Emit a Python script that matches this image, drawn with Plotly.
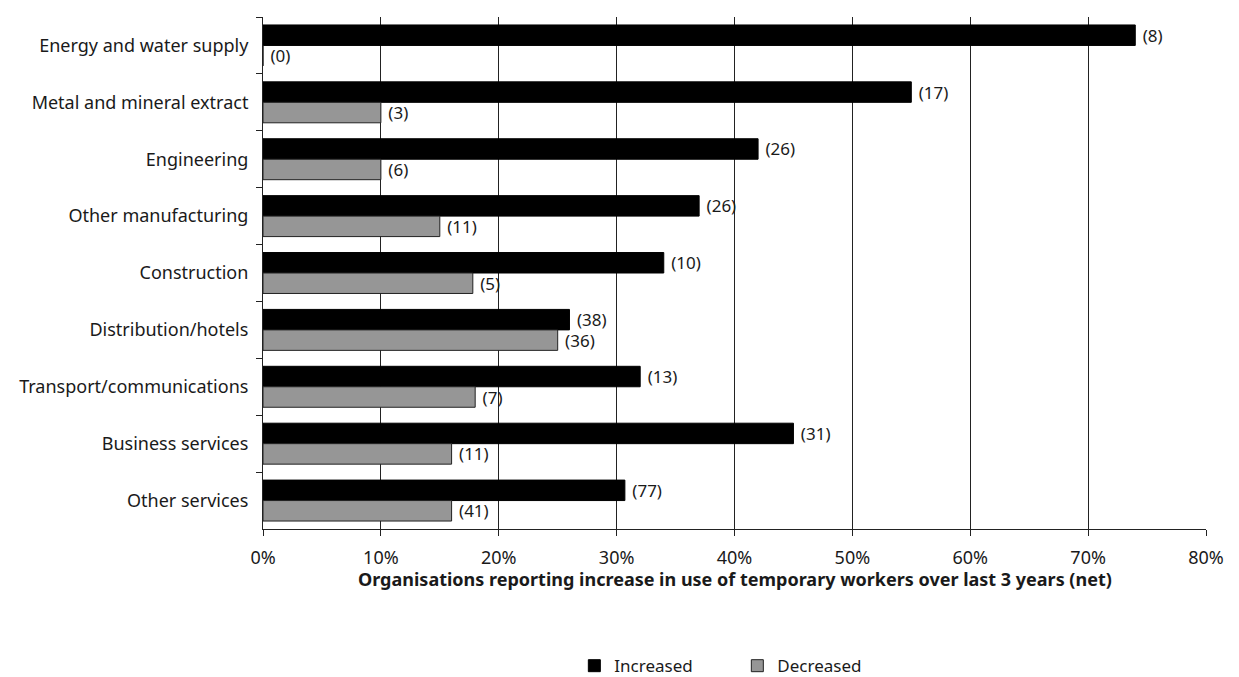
import plotly.graph_objects as go

categories = ["Energy and water supply", "Metal and mineral extract", "Engineering",
              "Other manufacturing", "Construction", "Distribution/hotels",
              "Transport/communications", "Business services", "Other services"]
increased = [74, 55, 42, 37, 34, 26, 32, 45, 30.7]
decreased = [0, 10, 10, 15, 17.8, 25, 18, 16, 16]
increased_n = [8, 17, 26, 26, 10, 38, 13, 31, 77]
decreased_n = [0, 3, 6, 11, 5, 36, 7, 11, 41]
x_ticks = [0, 10, 20, 30, 40, 50, 60, 70, 80]
x_ticklabels = ["0%", "10%", "20%", "30%", "40%", "50%", "60%", "70%", "80%"]

FONT = "Noto Sans"
FS = 18
TXT = "#1a1a1a"

fig = go.Figure()
fig.add_trace(go.Bar(
    y=categories, x=increased, orientation="h", name="Increased",
    marker=dict(color="#000000", line=dict(color="#000000", width=1)),
    text=[f" ({n})" for n in increased_n], textposition="outside",
    textfont=dict(size=17, color=TXT, family=FONT),
    constraintext="none", cliponaxis=False,
))
fig.add_trace(go.Bar(
    y=categories, x=decreased, orientation="h", name="Decreased",
    marker=dict(color="#969696", line=dict(color="#222222", width=1)),
    text=[f" ({n})" for n in decreased_n], textposition="outside",
    textfont=dict(size=17, color=TXT, family=FONT),
    constraintext="none", cliponaxis=False,
))

fig.update_layout(
    width=1239, height=677,
    margin=dict(l=263, r=33, t=17, b=148, autoexpand=False),
    paper_bgcolor="white", plot_bgcolor="white",
    barmode="group", bargap=0.28, bargroupgap=0,
    font=dict(family=FONT, size=FS, color=TXT),
    showlegend=True,
    legend=dict(orientation="h", x=0.503, xanchor="center",
                yref="paper", y=-0.303, yanchor="bottom",
                font=dict(size=17, family=FONT, color=TXT), itemwidth=30,
                entrywidth=118, entrywidthmode="pixels",
                traceorder="normal", tracegroupgap=0),
    annotations=[dict(
        text="<b>Organisations reporting increase in use of temporary workers over last 3 years (net)</b>",
        x=0.5, y=-0.098, xref="paper", yref="paper", xanchor="center", yanchor="middle",
        showarrow=False, font=dict(size=18, family=FONT, color=TXT))],
)
fig.update_xaxes(
    range=[0, 80], tickvals=x_ticks, ticktext=x_ticklabels,
    showgrid=True, gridcolor="#222222", gridwidth=1,
    showline=True, linecolor="#222222", linewidth=1,
    ticks="outside", ticklen=6, tickcolor="#222222", ticklabelstandoff=6,
    tickfont=dict(size=FS, family=FONT, color=TXT), zeroline=False,
)
fig.update_yaxes(
    autorange="reversed", showline=True, linecolor="#222222", linewidth=1,
    ticks="outside", tickson="boundaries", ticklen=6, tickcolor="#222222",
    ticklabelstandoff=10,
    tickfont=dict(size=FS, family=FONT, color=TXT), showgrid=False,
)

fig.write_html("out.html")
